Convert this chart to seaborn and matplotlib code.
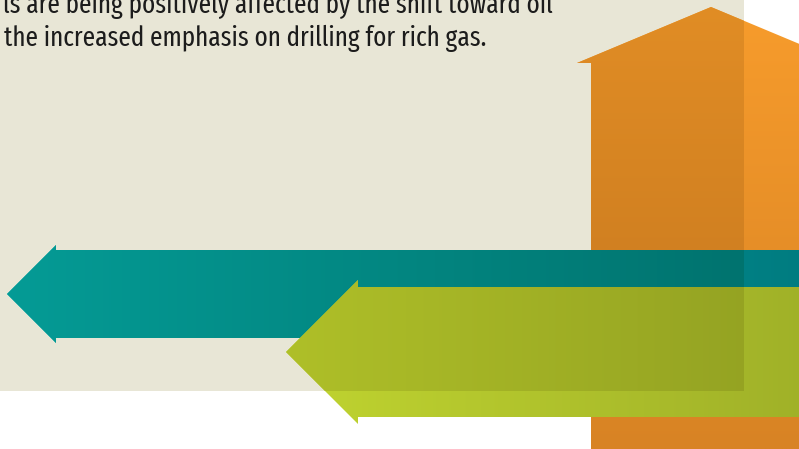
import numpy as np
import matplotlib
matplotlib.use("Agg")
import matplotlib.pyplot as plt
from matplotlib.patches import Polygon, Rectangle
import seaborn as sns

sns.set_theme(style="white")
plt.rcParams['font.family'] = ['Fira Sans Extra Condensed', 'Roboto Condensed', 'DejaVu Sans']

# text lines (first line is cut off at the left/top in the original)
text_lines = ["ls are being positively affected by the shift toward oil",
              "the increased emphasis on drilling for rich gas."]

# arrows: name, direction, tip x/y, head length, head half width, shaft half width
arrow_names = ["orange", "teal", "green"]
arrow_dir = ["up", "left", "left"]
tip_x = [711, 7, 286]
tip_y = [7, 294, 352]
head_len = [56, 49, 72]
head_half = [134, 49, 72]
shaft_half = [120, 44, 65]
# gradient colours (start -> end), as seen over white
grad_dir = ["v", "h", "h"]
col_start = [(247, 156, 44), (5, 172, 178), (192, 212, 48)]
col_end = [(216, 131, 36), (0, 122, 126), (158, 175, 40)]

beige = np.array([232, 230, 214]) / 255
panel_w, panel_h = 744, 391
W, H = 799, 449

fig = plt.figure(figsize=(7.99, 4.49), dpi=100)
ax = fig.add_axes([0, 0, 1, 1])
ax.set_xlim(0, W)
ax.set_ylim(H, 0)
ax.axis("off")
fig.patch.set_facecolor("white")

ax.add_patch(Rectangle((0, 0), panel_w, panel_h, facecolor=beige, edgecolor="none", zorder=0))


def arrow_poly(d, tx, ty, hl, hh, sh):
    if d == "left":
        far = W + 40
        return [(tx, ty), (tx + hl, ty - hh), (tx + hl, ty - sh), (far, ty - sh),
                (far, ty + sh), (tx + hl, ty + sh), (tx + hl, ty + hh)]
    far = H
    return [(tx, ty), (tx + hh, ty + hl), (tx + sh, ty + hl), (tx + sh, far),
            (tx - sh, far), (tx - sh, ty + hl), (tx - hh, ty + hl)]


z = 1
for i, name in enumerate(arrow_names):
    pts = arrow_poly(arrow_dir[i], tip_x[i], tip_y[i], head_len[i], head_half[i], shaft_half[i])
    xs = [p[0] for p in pts]
    ys = [p[1] for p in pts]
    x0, x1 = min(xs), max(xs)
    y0, y1 = min(ys), max(ys)
    t = np.linspace(0, 1, 256)[:, None]
    grad = (np.array(col_start[i]) * (1 - t) + np.array(col_end[i]) * t) / 255
    if grad_dir[i] == "h":
        light = grad[None, :, :]
    else:
        light = grad[:, None, :]
    dark = light * beige[None, None, :]

    poly = Polygon(pts, closed=True, facecolor="none", edgecolor="none")
    ax.add_patch(poly)
    im = ax.imshow(light, extent=(x0, x1, y1, y0), aspect="auto", zorder=z, interpolation="bilinear")
    im.set_clip_path(poly)

    # multiply with the beige panel where the arrow lies over it
    fx = np.clip((panel_w - x0) / (x1 - x0), 0, 1)
    fy = np.clip((panel_h - y0) / (y1 - y0), 0, 1)
    if grad_dir[i] == "h":
        sub = dark[:, :max(int(dark.shape[1] * fx), 2), :]
    else:
        sub = dark[:max(int(dark.shape[0] * fy), 2), :, :]
    im2 = ax.imshow(sub, extent=(x0, min(x1, panel_w), min(y1, panel_h), y0),
                    aspect="auto", zorder=z + 0.5, interpolation="bilinear")
    im2.set_clip_path(poly)
    z += 1

t1 = ax.text(3, 12.7, text_lines[0], fontsize=20, color="#1c1c1c", va="baseline", ha="left", zorder=10)
t2 = ax.text(4, 46.5, text_lines[1], fontsize=20, color="#1c1c1c", va="baseline", ha="left", zorder=10)

# fit the second line to its width in the reference (ends near x = 487)
r = fig.canvas.get_renderer()
w = t2.get_window_extent(r).width
fs = 20 * 483 / w
t1.set_fontsize(fs)
t2.set_fontsize(fs)

fig.savefig("out.png", dpi=100, facecolor="white")
